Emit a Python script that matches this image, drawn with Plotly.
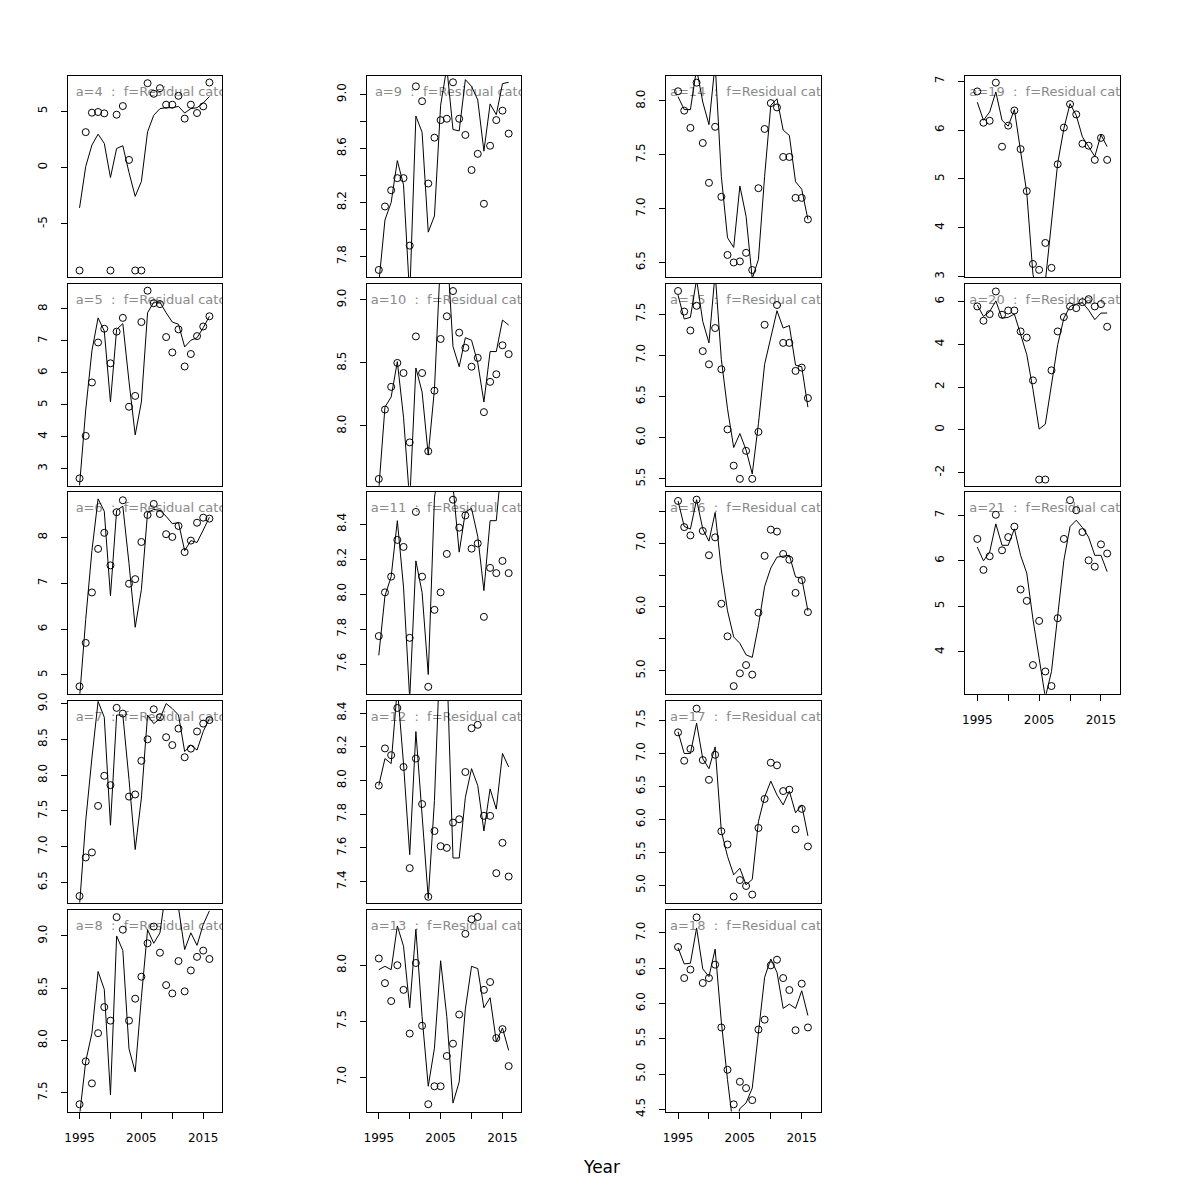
import plotly.graph_objects as go

# ---------------- data ----------------
years = list(range(1995, 2017))
ages = list(range(4, 22))
label_fmt = "a={}\u00a0\u00a0:\u00a0\u00a0f=Residual catch"
x_label = "Year"

obs_4 = [-9.15, 3.15, 4.88, 4.94, 4.82, -9.15, 4.70, 5.47, 0.68, -9.15, -9.15, 7.50, 6.56, 7.06, 5.59, 5.59, 6.38, 4.35, 5.59, 4.85, 5.44, 7.56]
fit_4 = [-3.59, 0.09, 2.00, 2.97, 2.15, -0.88, 1.70, 1.94, -0.44, -2.56, -1.24, 3.18, 4.65, 5.24, 5.32, 5.32, 5.44, 4.85, 5.24, 5.32, 5.74, 6.32]
obs_5 = [2.70, 4.03, 5.70, 6.95, 7.38, 6.30, 7.29, 7.72, 4.94, 5.28, 7.59, 8.57, 8.18, 8.15, 7.12, 6.64, 7.36, 6.20, 6.59, 7.15, 7.45, 7.77]
fit_5 = [2.48, 4.84, 6.69, 7.72, 7.31, 5.09, 7.36, 7.54, 5.73, 4.06, 5.09, 7.88, 8.21, 8.21, 7.88, 7.59, 7.52, 6.81, 7.02, 7.10, 7.41, 7.77]
obs_6 = [4.75, 5.70, 6.80, 7.75, 8.10, 7.39, 8.55, 8.81, 6.99, 7.09, 7.90, 8.49, 8.73, 8.51, 8.07, 8.01, 8.25, 7.68, 7.93, 8.32, 8.43, 8.41]
fit_6 = [4.50, 6.21, 7.71, 8.84, 8.57, 6.73, 8.59, 8.68, 7.43, 6.04, 6.86, 8.54, 8.61, 8.59, 8.46, 8.30, 8.32, 7.71, 7.93, 7.89, 8.16, 8.44]
obs_7 = [6.31, 6.85, 6.92, 7.57, 7.99, 7.86, 8.94, 8.86, 7.70, 7.73, 8.20, 8.50, 8.92, 8.81, 8.53, 8.42, 8.65, 8.25, 8.37, 8.61, 8.72, 8.77]
fit_7 = [6.18, 7.36, 8.24, 9.03, 8.81, 7.30, 8.84, 8.84, 7.94, 6.96, 7.68, 8.84, 8.72, 8.79, 9.00, 8.93, 8.84, 8.33, 8.42, 8.35, 8.61, 8.79]
obs_8 = [7.39, 7.80, 7.59, 8.07, 8.32, 8.19, 9.18, 9.06, 8.19, 8.40, 8.61, 8.93, 9.09, 8.84, 8.53, 8.45, 8.76, 8.47, 8.67, 8.80, 8.86, 8.78]
fit_8 = [7.28, 7.80, 8.07, 8.66, 8.49, 7.48, 9.00, 8.86, 7.92, 7.70, 8.41, 9.06, 8.93, 9.03, 9.45, 9.50, 9.27, 8.87, 9.03, 8.91, 9.11, 9.24]
obs_9 = [7.70, 8.17, 8.29, 8.38, 8.38, 7.88, 9.06, 8.95, 8.34, 8.68, 8.81, 8.82, 9.09, 8.82, 8.70, 8.44, 8.56, 8.19, 8.62, 8.81, 8.88, 8.71]
fit_9 = [7.60, 8.07, 8.20, 8.51, 8.33, 7.50, 8.84, 8.72, 7.98, 8.10, 8.92, 9.20, 8.74, 8.73, 9.11, 9.06, 8.96, 8.58, 8.93, 8.85, 9.08, 9.09]
obs_10 = [7.58, 8.13, 8.31, 8.50, 8.42, 7.87, 8.71, 8.42, 7.80, 8.28, 8.69, 8.87, 9.07, 8.74, 8.62, 8.47, 8.54, 8.11, 8.35, 8.41, 8.64, 8.57]
fit_10 = [7.50, 8.15, 8.23, 8.51, 8.07, 7.40, 8.46, 8.27, 7.77, 8.29, 9.35, 9.45, 8.63, 8.47, 8.70, 8.68, 8.50, 8.19, 8.59, 8.59, 8.84, 8.80]
obs_11 = [7.76, 8.01, 8.10, 8.31, 8.27, 7.75, 8.47, 8.10, 7.47, 7.91, 8.01, 8.23, 8.54, 8.38, 8.45, 8.26, 8.29, 7.87, 8.15, 8.12, 8.19, 8.12]
fit_11 = [7.65, 7.99, 8.10, 8.42, 8.04, 7.40, 8.19, 8.01, 7.54, 8.55, 8.80, 8.90, 8.62, 8.24, 8.47, 8.49, 8.33, 8.02, 8.42, 8.42, 8.80, 8.80]
obs_12 = [7.97, 8.19, 8.15, 8.43, 8.08, 7.48, 8.13, 7.86, 7.31, 7.70, 7.61, 7.60, 7.75, 7.77, 8.05, 8.31, 8.33, 7.79, 7.79, 7.45, 7.63, 7.43]
fit_12 = [7.97, 8.13, 8.10, 8.55, 8.10, 7.56, 8.29, 7.78, 7.30, 7.88, 8.85, 8.70, 7.54, 7.54, 7.90, 8.07, 7.97, 7.70, 7.95, 7.83, 8.16, 8.08]
obs_13 = [8.06, 7.84, 7.68, 8.00, 7.78, 7.39, 8.02, 7.46, 6.76, 6.92, 6.92, 7.19, 7.30, 7.56, 8.28, 8.41, 8.43, 7.78, 7.85, 7.35, 7.43, 7.10]
fit_13 = [7.96, 7.99, 7.96, 8.35, 8.17, 7.62, 8.32, 7.54, 6.92, 7.26, 8.04, 7.54, 6.77, 6.96, 7.61, 7.99, 7.97, 7.62, 7.71, 7.32, 7.44, 7.24]
obs_14 = [8.09, 7.91, 7.75, 8.17, 7.61, 7.24, 7.76, 7.11, 6.57, 6.50, 6.51, 6.59, 6.43, 7.19, 7.74, 7.98, 7.94, 7.48, 7.48, 7.10, 7.10, 6.90]
fit_14 = [8.04, 7.92, 7.92, 8.30, 7.99, 7.78, 8.35, 7.30, 6.73, 6.64, 7.21, 6.93, 6.35, 6.53, 7.30, 7.96, 8.02, 7.73, 7.68, 7.25, 7.18, 6.90]
obs_15 = [7.78, 7.53, 7.30, 7.60, 7.05, 6.89, 7.33, 6.83, 6.10, 5.66, 5.50, 5.84, 5.50, 6.07, 7.37, 7.95, 7.61, 7.15, 7.15, 6.81, 6.85, 6.48]
fit_15 = [7.73, 7.44, 7.46, 7.92, 7.41, 7.15, 8.00, 6.95, 6.35, 5.88, 6.05, 5.85, 5.56, 6.17, 6.89, 7.21, 7.54, 7.33, 7.36, 6.88, 6.86, 6.37]
obs_16 = [7.66, 7.25, 7.12, 7.68, 7.19, 6.81, 7.09, 6.05, 5.54, 4.76, 4.96, 5.09, 4.94, 5.91, 6.80, 7.21, 7.18, 6.83, 6.74, 6.22, 6.42, 5.92]
fit_16 = [7.66, 7.26, 7.22, 7.68, 7.22, 7.03, 7.48, 6.58, 5.94, 5.53, 5.43, 5.25, 5.21, 5.71, 6.32, 6.61, 6.78, 6.80, 6.81, 6.47, 6.45, 5.94]
obs_17 = [7.32, 6.89, 7.07, 7.68, 6.90, 6.60, 6.98, 5.82, 5.62, 4.83, 5.08, 4.99, 4.86, 5.87, 6.31, 6.86, 6.82, 6.43, 6.45, 5.85, 6.16, 5.59]
fit_17 = [7.33, 7.00, 7.00, 7.46, 6.92, 6.77, 7.10, 5.82, 5.44, 5.16, 5.26, 5.01, 5.09, 5.97, 6.34, 6.58, 6.37, 6.22, 6.43, 6.10, 6.22, 5.75]
obs_18 = [6.80, 6.36, 6.48, 7.22, 6.29, 6.36, 6.55, 5.66, 5.06, 4.57, 4.89, 4.80, 4.63, 5.63, 5.77, 6.54, 6.62, 6.36, 6.19, 5.62, 6.28, 5.66]
fit_18 = [6.79, 6.56, 6.57, 7.07, 6.49, 6.38, 6.77, 5.74, 4.92, 4.20, 4.51, 4.59, 4.80, 5.62, 6.37, 6.63, 6.44, 5.93, 5.99, 5.93, 6.18, 5.83]
obs_19 = [6.79, 6.15, 6.19, 6.97, 5.66, 6.09, 6.40, 5.61, 4.75, 3.26, 3.14, 3.69, 3.18, 5.30, 6.05, 6.53, 6.32, 5.72, 5.68, 5.39, 5.84, 5.39]
fit_19 = [6.57, 6.20, 6.37, 6.78, 6.20, 6.08, 6.42, 5.56, 4.72, 3.05, 2.50, 2.90, 4.10, 5.32, 6.03, 6.54, 6.30, 5.86, 5.66, 5.46, 5.90, 5.66]
obs_20 = [5.77, 5.10, 5.41, 6.47, 5.38, 5.58, 5.58, 4.60, 4.31, 2.31, -2.33, -2.33, 2.78, 4.60, 5.27, 5.77, 5.69, 5.97, 6.11, 5.77, 5.88, 4.82]
fit_20 = [5.84, 5.30, 5.53, 6.03, 5.22, 5.26, 5.41, 4.48, 3.52, 1.89, 0.03, 0.26, 2.12, 3.98, 5.22, 5.77, 5.88, 5.95, 5.60, 5.15, 5.46, 5.46]
obs_21 = [6.48, 5.80, 6.10, 7.01, 6.23, 6.52, 6.75, 5.37, 5.12, 3.71, 4.68, 3.57, 3.25, 4.74, 6.48, 7.33, 7.11, 6.63, 6.01, 5.87, 6.36, 6.16]
fit_21 = [6.30, 6.00, 6.19, 6.81, 6.34, 6.34, 6.70, 6.12, 5.73, 4.72, 3.86, 3.00, 3.57, 4.79, 6.01, 6.75, 6.89, 6.73, 6.52, 6.12, 6.12, 5.76]

# per-panel y limits and y tick specs (first, last, step, label every n-th)
ylim = {4: (-9.76, 8.18), 5: (2.47, 8.78), 6: (4.59, 8.99), 7: (6.22, 9.04), 8: (7.32, 9.25),
        9: (7.645, 9.14), 10: (7.526, 9.126), 11: (7.43, 8.584), 12: (7.276, 8.473), 13: (6.694, 8.494),
        14: (6.362, 8.236), 15: (5.416, 7.865), 16: (4.64, 7.80), 17: (4.74, 7.80), 18: (4.467, 7.327),
        19: (2.986, 7.115), 20: (-2.62, 6.82), 21: (3.08, 7.51)}
ytick = {4: (-5, 5, 5, 1), 5: (3, 8, 1, 1), 6: (5, 8, 1, 1), 7: (6.5, 9.0, 0.5, 1), 8: (7.5, 9.0, 0.5, 1),
         9: (7.8, 9.0, 0.2, 2), 10: (8.0, 9.0, 0.5, 1), 11: (7.6, 8.4, 0.2, 1), 12: (7.4, 8.4, 0.2, 1),
         13: (7.0, 8.0, 0.5, 1), 14: (6.5, 8.0, 0.5, 1), 15: (5.5, 7.5, 0.5, 1), 16: (5.0, 7.5, 0.5, 2),
         17: (5.0, 7.5, 0.5, 1), 18: (4.5, 7.0, 0.5, 1), 19: (3, 7, 1, 1), 20: (-2, 6, 2, 1), 21: (4, 7, 1, 1)}
xtick_vals = [1995, 2000, 2005, 2010, 2015]
xtick_text = ["1995", "", "2005", "", "2015"]

obs = {4: obs_4, 5: obs_5, 6: obs_6, 7: obs_7, 8: obs_8, 9: obs_9, 10: obs_10, 11: obs_11, 12: obs_12,
       13: obs_13, 14: obs_14, 15: obs_15, 16: obs_16, 17: obs_17, 18: obs_18, 19: obs_19, 20: obs_20, 21: obs_21}
fit = {4: fit_4, 5: fit_5, 6: fit_6, 7: fit_7, 8: fit_8, 9: fit_9, 10: fit_10, 11: fit_11, 12: fit_12,
       13: fit_13, 14: fit_14, 15: fit_15, 16: fit_16, 17: fit_17, 18: fit_18, 19: fit_19, 20: fit_20, 21: fit_21}

# ---------------- layout geometry ----------------
W = H = 1200
FONT = "DejaVu Sans"
col_left = [64.7, 364.7, 664.7, 964.7]
pw = 155.0
row_top = [68.3, 279.0, 489.3, 700.3, 911.7]
ph = 204.0
XR = (1993.06, 2018.06)
bottom_of_col = {0: 8, 1: 13, 2: 18, 3: 21}


def tick_spec(first, last, step, every):
    n = int(round((last - first) / step))
    dec = 0 if float(step).is_integer() else 1
    vals, txt = [], []
    for k in range(n + 1):
        v = round(first + k * step, 6)
        vals.append(v)
        txt.append((f"{v:.{dec}f}") if k % every == 0 else "")
    return vals, txt


fig = go.Figure()
layout = dict(width=W, height=H, margin=dict(l=0, r=0, t=0, b=0),
              paper_bgcolor="white", plot_bgcolor="white", showlegend=False,
              font=dict(family=FONT, size=12, color="black"))

for idx, a in enumerate(ages):
    col, row = idx // 5, idx % 5
    n = idx + 1
    xk = "x" if n == 1 else f"x{n}"
    yk = "y" if n == 1 else f"y{n}"
    xa = "xaxis" if n == 1 else f"xaxis{n}"
    ya = "yaxis" if n == 1 else f"yaxis{n}"
    l = col_left[col]
    t = row_top[row]
    y0, y1 = ylim[a]
    is_bottom = (a == bottom_of_col[col])

    layout[xa] = dict(domain=[l / W, (l + pw) / W], anchor=yk, range=list(XR),
                      showline=True, mirror=True, linecolor="black", linewidth=1,
                      showgrid=False, zeroline=False,
                      ticks="outside" if is_bottom else "", ticklen=6, tickwidth=1, tickcolor="black",
                      showticklabels=is_bottom, tickvals=xtick_vals, ticktext=xtick_text,
                      tickfont=dict(family=FONT, size=12, color="black"), ticklabelstandoff=9)
    tv, tt = tick_spec(*ytick[a])
    layout[ya] = dict(domain=[1 - (t + ph) / H, 1 - t / H], anchor=xk, range=[y0, y1],
                      showline=True, mirror=True, linecolor="black", linewidth=1,
                      showgrid=False, zeroline=False,
                      ticks="outside", ticklen=6, tickwidth=1, tickcolor="black",
                      tickvals=tv, ticktext=tt, tickangle=-90,
                      tickfont=dict(family=FONT, size=12, color="black"), ticklabelstandoff=9)

    # panel title (clipped by the plot area like in the original)
    tx = XR[0] + (87.4 / pw) * (XR[1] - XR[0])
    ty = y0 + 0.917 * (y1 - y0)
    fig.add_trace(go.Scatter(x=[tx], y=[ty], mode="text", text=[label_fmt.format(a)],
                             textposition="middle center", cliponaxis=True,
                             textfont=dict(family=FONT, size=13, color="#8a8a8a"),
                             xaxis=xk, yaxis=yk, hoverinfo="skip"))
    fig.add_trace(go.Scatter(x=years, y=fit[a], mode="lines", cliponaxis=True,
                             line=dict(color="black", width=1), xaxis=xk, yaxis=yk))
    fig.add_trace(go.Scatter(x=years, y=obs[a], mode="markers", cliponaxis=True,
                             marker=dict(symbol="circle-open", size=7, color="black",
                                         line=dict(color="black", width=1)),
                             xaxis=xk, yaxis=yk))

layout["annotations"] = [dict(text=x_label, x=0.5, y=1 - 1172 / H, xref="paper", yref="paper",
                              xanchor="center", yanchor="middle", showarrow=False,
                              font=dict(family=FONT, size=17, color="black"))]
fig.update_layout(**layout)
fig.write_html("out.html", config={"displayModeBar": False},
               post_script="document.body.style.margin='0';document.body.style.overflow='hidden';")
